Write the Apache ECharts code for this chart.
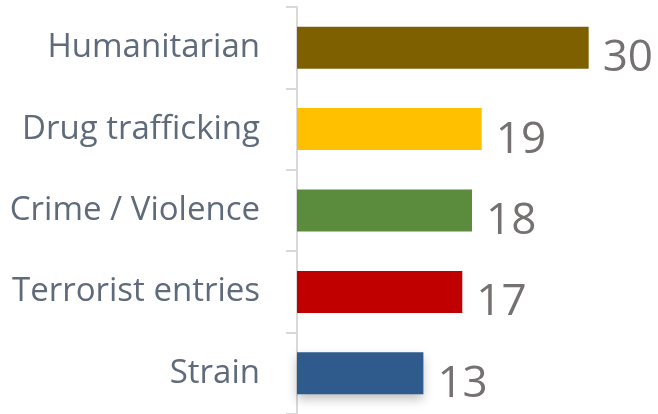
<!DOCTYPE html>
<html><head><meta charset="utf-8">
<script src="https://cdn.jsdelivr.net/npm/echarts@6/dist/echarts.min.js"></script>
<style>html,body{margin:0;padding:0;background:#fff}#c{width:658px;height:414px}</style>
</head><body><div id="c"></div>
<script>
const categories = ["Humanitarian", "Drug trafficking", "Crime / Violence", "Terrorist entries", "Strain"];
const values = [30, 19, 18, 17, 13];
const colors = ["#7F6000", "#FFC000", "#5B8C3E", "#C00000", "#2E5A8C"];

const chart = echarts.init(document.getElementById('c'));
chart.setOption({
  animation: false,
  grid: { left: 297, right: 11, top: 7, height: 410, containLabel: false },
  xAxis: { type: 'value', min: 0, max: 36, show: false },
  yAxis: {
    type: 'category', data: categories, inverse: true,
    axisLine: { show: true, lineStyle: { color: '#D9D9D9', width: 2 } },
    axisTick: { show: true, length: 11, lineStyle: { color: '#D9D9D9', width: 2 } },
    axisLabel: { margin: 37, color: '#5F6B7A', fontFamily: 'Open Sans', fontSize: 33 }
  },
  series: [{
    type: 'bar', barWidth: 42,
    data: values.map((v, i) => ({
      value: v,
      itemStyle: Object.assign({ color: colors[i] },
        i === values.length - 1 ? { shadowBlur: 10, shadowOffsetY: 5, shadowColor: 'rgba(0,0,0,0.25)' } : {})
    })),
    label: {
      show: true, position: 'right', distance: 14, offset: [0, 11],
      color: '#767171', fontFamily: 'Open Sans', fontSize: 44
    }
  }]
});
</script></body></html>
